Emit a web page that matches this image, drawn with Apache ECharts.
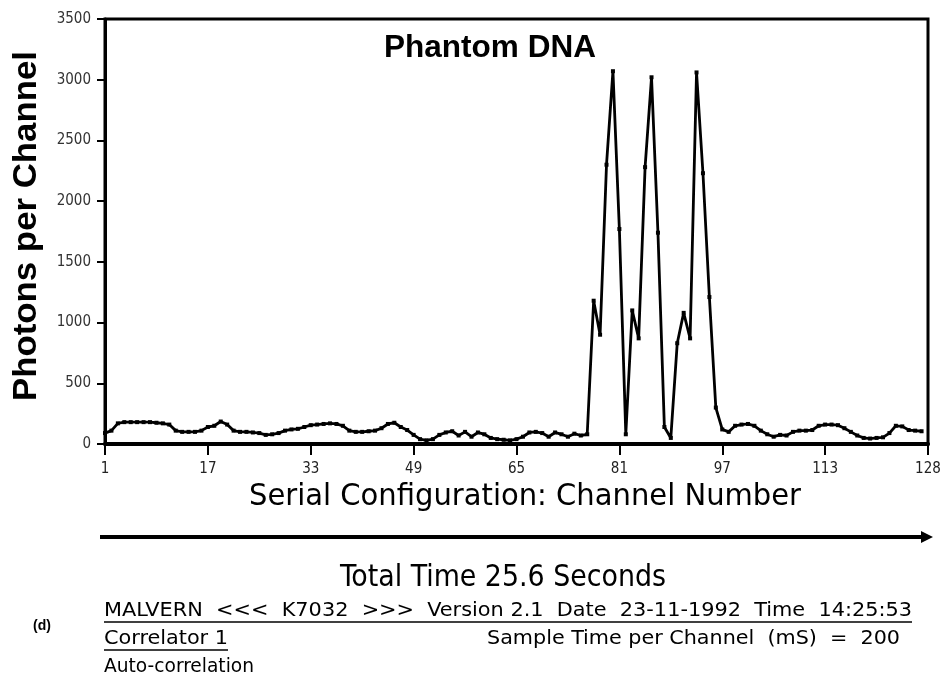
<!DOCTYPE html>
<html>
<head>
<meta charset="utf-8">
<script src="https://cdn.jsdelivr.net/npm/echarts@6/dist/echarts.min.js"></script>
<style>
html,body{margin:0;padding:0;background:#fff;}
#chart{width:945px;height:698px;}
</style>
</head>
<body>
<div id="chart"></div>
<script>
// ---- data ----
var chartTitle = 'Phantom DNA';
var yAxisTitle = 'Photons per Channel';
var xAxisTitle = 'Serial Configuration: Channel Number';
var timeLabel = 'Total Time 25.6 Seconds';
var xTickLabels = ['1', '17', '33', '49', '65', '81', '97', '113', '128'];
var yTicks = [0, 500, 1000, 1500, 2000, 2500, 3000, 3500];
// photons per channel, channels 1..128
var photons = [
  90, 110, 170, 180, 180, 180, 180, 180, 175, 170,
  160, 110, 100, 100, 100, 110, 140, 150, 185, 160,
  110, 100, 100, 95, 90, 75, 80, 90, 110, 120,
  125, 140, 155, 160, 165, 170, 165, 150, 110, 100,
  100, 105, 110, 130, 165, 175, 140, 115, 75, 40,
  30, 40, 75, 95, 105, 70, 100, 60, 95, 80,
  50, 40, 35, 30, 40, 60, 95, 100, 90, 60,
  95, 80, 60, 85, 70, 80, 1180, 900, 2300, 3070,
  1770, 80, 1100, 870, 2280, 3020, 1740, 140, 50, 830,
  1080, 870, 3060, 2230, 1210, 300, 120, 100, 150, 160,
  165, 150, 110, 80, 60, 75, 70, 100, 110, 110,
  115, 150, 160, 160, 155, 130, 100, 70, 50, 45,
  50, 55, 90, 150, 145, 115, 110, 105
];
var footerLine1 = 'MALVERN  <<<  K7032  >>>  Version 2.1  Date  23-11-1992  Time  14:25:53';
var footerCorrelator = 'Correlator 1';
var footerSample = 'Sample Time per Channel  (mS)  =  200';
var footerMode = 'Auto-correlation';
var panelLabel = '(d)';

// ---- build ----
var seriesData = photons.map(function (v, i) { return [i, v]; });
var NARROW = '"Liberation Sans Narrow", "DejaVu Sans Condensed", "Liberation Sans", Arial, sans-serif';
var SANS = '"Liberation Sans", Arial, sans-serif';

var mctx = document.createElement('canvas').getContext('2d');
function fitScale(text, size, weight, family, target) {
  mctx.font = (weight || 'normal') + ' ' + size + 'px ' + family;
  var w = mctx.measureText(text).width;
  return w > 0 ? target / w : 1;
}
function txt(text, x, y, size, weight, family, align, target, extra) {
  var s = target ? fitScale(text, size, weight, family, target) : 1;
  var el = {
    type: 'text', x: x, y: y, scaleX: s, z: 100,
    style: {
      text: text, x: 0, y: 0, fill: '#000',
      font: (weight || 'normal') + ' ' + size + 'px ' + family,
      align: align || 'center', verticalAlign: 'middle'
    }
  };
  if (extra) for (var k in extra) el[k] = extra[k];
  return el;
}

var chart = echarts.init(document.getElementById('chart'), null, { renderer: 'canvas' });
chart.setOption({
  animation: false,
  backgroundColor: '#fff',
  grid: {
    left: 105, right: 17, top: 19, bottom: 254,
    show: true, borderColor: '#000', borderWidth: 3, backgroundColor: 'transparent'
  },
  xAxis: {
    type: 'value', min: 0, max: 128, interval: 16,
    axisLine: { show: true, onZero: false, lineStyle: { color: '#000', width: 4 } },
    axisTick: { show: true, length: 11, inside: false, lineStyle: { color: '#000', width: 2 } },
    axisLabel: {
      margin: 18, color: '#222', fontSize: 15, fontFamily: NARROW,
      formatter: function (v) { return xTickLabels[Math.round(v / 16)] || ''; }
    },
    splitLine: { show: false }
  },
  yAxis: {
    type: 'value', min: yTicks[0], max: yTicks[yTicks.length - 1], interval: 500,
    axisLine: { show: true, lineStyle: { color: '#000', width: 3 } },
    axisTick: { show: true, length: 8, lineStyle: { color: '#000', width: 2 } },
    axisLabel: {
      margin: 14, color: '#333', fontSize: 15, fontFamily: NARROW,
      formatter: function (v) { return String(v); }
    },
    splitLine: { show: false }
  },
  series: [{
    type: 'line',
    data: seriesData,
    symbol: 'rect',
    symbolSize: 4,
    showSymbol: true,
    lineStyle: { color: '#000', width: 2.8 },
    itemStyle: { color: '#000' },
    z: 5
  }],
  graphic: [
    txt(chartTitle, 490, 48, 32, 'bold', SANS, 'center', 212),
    txt(yAxisTitle, 27, 226, 33, 'bold', SANS, 'center', 350, { rotation: Math.PI / 2 }),
    txt(xAxisTitle, 525, 497, 30, 'normal', NARROW, 'center', 552),
    { type: 'line', z: 100, shape: { x1: 100, y1: 537, x2: 924, y2: 537 }, style: { stroke: '#000', lineWidth: 4 } },
    { type: 'polygon', z: 100, shape: { points: [[921, 531], [933, 537], [921, 543]] }, style: { fill: '#000' } },
    txt(timeLabel, 503, 578, 30, 'normal', NARROW, 'center', 326),
    txt(panelLabel, 42, 626, 14, 'bold', SANS, 'center', null),
    txt(footerLine1, 104, 611, 20, 'normal', NARROW, 'left', 808),
    { type: 'line', z: 100, shape: { x1: 104, y1: 622, x2: 912, y2: 622 }, style: { stroke: '#000', lineWidth: 1.5 } },
    txt(footerCorrelator, 104, 639, 20, 'normal', NARROW, 'left', 124),
    { type: 'line', z: 100, shape: { x1: 104, y1: 650, x2: 228, y2: 650 }, style: { stroke: '#000', lineWidth: 1.5 } },
    txt(footerSample, 900, 639, 20, 'normal', NARROW, 'right', 413),
    txt(footerMode, 104, 667, 20, 'normal', NARROW, 'left', 150)
  ]
});
</script>
</body>
</html>
